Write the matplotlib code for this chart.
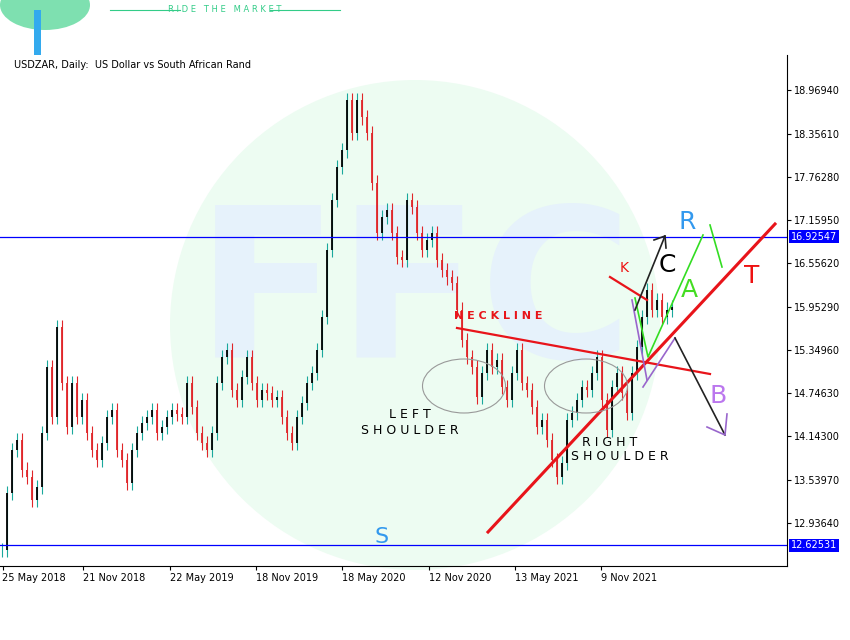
import matplotlib
matplotlib.use("Agg")
import matplotlib.pyplot as plt
from matplotlib.patches import Ellipse
from matplotlib.transforms import Affine2D

closes = [12.56,13.35,13.95,14.09,13.68,13.58,13.26,13.44,14.19,15.11,14.41,15.67,14.89,14.27,14.89,14.41,
          14.65,14.19,13.95,13.81,14.05,14.41,14.51,13.95,13.81,13.49,13.95,14.19,14.33,14.41,14.51,14.19,
          14.27,14.41,14.51,14.46,14.41,14.89,14.55,14.19,14.05,13.95,14.19,14.89,15.25,15.35,14.79,14.65,
          14.97,15.25,14.89,14.65,14.79,14.75,14.65,14.69,14.41,14.19,14.05,14.41,14.61,14.89,15.03,15.35,
          15.81,16.74,17.44,17.90,18.13,18.83,18.37,18.83,18.59,18.37,17.68,16.98,17.20,17.30,16.98,16.64,
          16.60,17.44,17.34,16.98,16.74,16.88,16.98,16.60,16.46,16.36,16.28,15.91,15.49,15.25,15.11,14.69,
          15.03,15.35,15.11,15.21,14.83,14.65,15.03,15.35,14.89,14.79,14.55,14.27,14.37,14.09,13.81,13.58,
          13.77,14.37,14.47,14.65,14.83,14.79,15.03,15.25,14.65,14.23,14.83,15.03,14.75,14.47,15.03,15.39,
          15.81,16.18,15.91,16.04,15.81,15.91,15.95]
wick = 0.1
yticks = [18.96940,18.35610,17.76280,17.15950,16.55620,15.95290,15.34960,14.74630,14.14300,13.53970,12.93640]
date_labels = ["25 May 2018","21 Nov 2018","22 May 2019","18 Nov 2019","18 May 2020","12 Nov 2020","13 May 2021","9 Nov 2021"]
date_pos = [0.5,16.6,34,51.2,68.4,85.8,103,120.2]
levels = [16.92547, 12.62531]

fig = plt.figure(figsize=(8.5,6.4), dpi=100)
P = Affine2D().scale(1/850, -1/640).translate(0,1) + fig.transFigure

# watermark (behind axes)
fig.patches.append(Ellipse((415,325),490,490,transform=P,facecolor="#edfcf2",edgecolor="none",zorder=-2))
fig.text(415/850,1-300/640,"FFC",transform=fig.transFigure,fontsize=150,color="#e6f2fb",
         ha="center",va="center",fontweight="bold",zorder=-1)

ax = fig.add_axes([0,74/640,787/850,511/640])
ax.set_zorder(2)
ax.patch.set_alpha(0)
ax.set_xlim(0,157.4)
ax.set_ylim(12.337,19.459)
for s in ["top","left"]:
    ax.spines[s].set_visible(False)
ax.yaxis.tick_right()
ax.set_yticks(yticks)
ax.set_yticklabels([f"{v:.5f}" for v in yticks], fontsize=7)
ax.set_xticks(date_pos)
ax.set_xticklabels(date_labels, fontsize=7, ha="left")
ax.tick_params(length=3, pad=2)

prev = closes[0]
for i,c in enumerate(closes):
    o = prev
    x = i+0.4
    up = c >= o
    col = "#1aa89c" if up else "#e0262a"
    hi = max(o,c)+wick; lo = min(o,c)-wick
    ax.vlines(x, lo, hi, color=col, lw=0.8)
    ax.vlines(x, min(o,c), max(o,c), color="black" if up else col, lw=1.3)
    prev = c

for lv in levels:
    ax.axhline(lv, color="#0000ff", lw=0.9)
    ax.text(1.005, lv, f"{lv:.5f}", transform=ax.get_yaxis_transform(), fontsize=7, color="white",
            va="center", ha="left", bbox=dict(boxstyle="square,pad=0.15", fc="#0000ff", ec="none"))

def line(xs, ys, **kw):
    fig.add_artist(plt.Line2D(xs, ys, transform=P, zorder=5, **kw))

line([488,775],[532,224], color="#e8141a", lw=2.2)
line([457,710],[328,374], color="#e8141a", lw=1.6)
line([610,647],[277,300], color="#e8141a", lw=1.6)
line([635,648,703],[298,357,235], color="#33dd22", lw=1.2)
line([710,722],[225,267], color="#33dd22", lw=1.2)
line([632,647],[300,380], color="#9966cc", lw=1.2)
line([643,675],[387,338], color="#9966cc", lw=1.2)
line([675,725],[338,435], color="#222222", lw=1.2)
line([707,725,727],[427,435,414], color="#9966cc", lw=1.2)
line([635,665],[310,236], color="#222222", lw=1.2)
line([654,665,666],[240,236,248], color="#222222", lw=1.2)

for cx in (464,586):
    fig.patches.append(Ellipse((cx,386),83,54,transform=P,facecolor="none",edgecolor="#999999",lw=0.8,zorder=5))

def t(x,y,s,**kw):
    fig.text(x/850,1-y/640,s,zorder=6,**kw)
t(687,222,"R",fontsize=18,color="#3399ee",ha="center",va="center")
t(667,265,"C",fontsize=18,color="black",ha="center",va="center")
t(689,290,"A",fontsize=18,color="#44dd22",ha="center",va="center")
t(752,276,"T",fontsize=18,color="#ee1111",ha="center",va="center")
t(718,396,"B",fontsize=18,color="#bb77ee",ha="center",va="center")
t(624,268,"K",fontsize=10,color="#ee1111",ha="center",va="center")
t(382,537,"S",fontsize=16,color="#3399ee",ha="center",va="center")
t(498,316,"N E C K L I N E",fontsize=8,color="#e8141a",ha="center",va="center",fontweight="bold")
t(410,415,"L E F T",fontsize=9,color="black",ha="center",va="center")
t(410,431,"S H O U L D E R",fontsize=9,color="black",ha="center",va="center")
t(610,442,"R I G H T",fontsize=9,color="black",ha="center",va="center")
t(620,457,"S H O U L D E R",fontsize=9,color="black",ha="center",va="center")
t(14,65,"USDZAR, Daily:  US Dollar vs South African Rand",fontsize=7,color="black",va="center")
t(225,10,"R I D E   T H E   M A R K E T",fontsize=6,color="#33cc88",ha="center",va="center")
line([110,180],[10,10],color="#33cc88",lw=0.8)
line([270,340],[10,10],color="#33cc88",lw=0.8)
fig.patches.append(Ellipse((45,5),90,50,transform=P,facecolor="#7ee0b0",edgecolor="none"))
fig.patches.append(plt.Rectangle((34,10),7,45,transform=P,facecolor="#33aaee",edgecolor="none"))

fig.savefig("out.png", dpi=100)
